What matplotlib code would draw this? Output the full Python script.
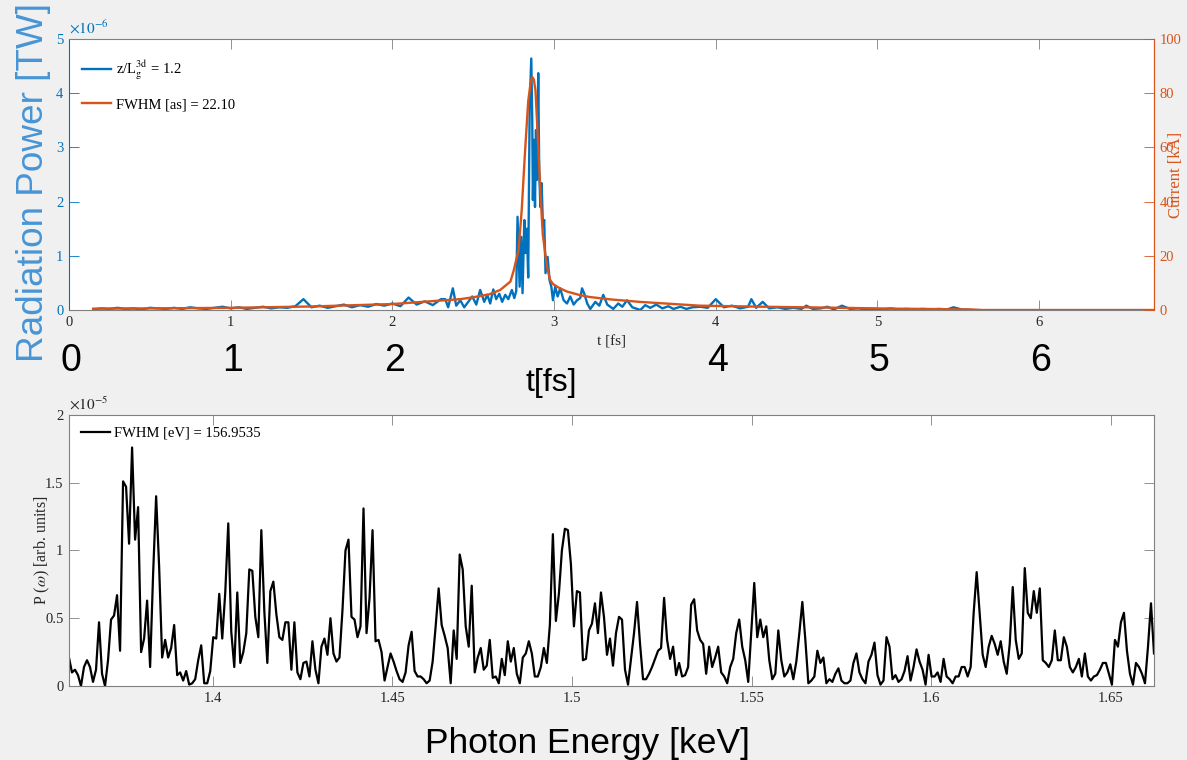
import numpy as np
import matplotlib.pyplot as plt
from matplotlib.ticker import FuncFormatter, MultipleLocator

####################################
### Data
####################################

# radiation power along the bunch, t in fs, power in units of 1e-6 TW
t_rad = [0.15, 0.20, 0.25, 0.30, 0.35, 0.40, 0.45, 0.50, 0.55, 0.60,
         0.65, 0.70, 0.75, 0.80, 0.85, 0.90, 0.95, 1.00, 1.05, 1.10,
         1.15, 1.20, 1.25, 1.30, 1.35, 1.40, 1.45, 1.50, 1.55, 1.60,
         1.65, 1.70, 1.75, 1.80, 1.85, 1.90, 1.95, 2.00, 2.05, 2.10,
         2.15, 2.20, 2.25, 2.30,
         2.327, 2.345, 2.374, 2.395, 2.42, 2.444, 2.469, 2.494, 2.519, 2.543,
         2.568, 2.587, 2.605, 2.624, 2.642, 2.661, 2.679, 2.698, 2.717, 2.739,
         2.754, 2.766,
         2.774, 2.787, 2.797, 2.805, 2.816, 2.824, 2.832, 2.840, 2.849, 2.859,
         2.865, 2.869, 2.876, 2.882, 2.888, 2.894, 2.902, 2.908, 2.915, 2.923,
         2.931, 2.939, 2.947, 2.960, 2.972, 2.983, 2.993, 3.007, 3.022, 3.038,
         3.059, 3.080, 3.100, 3.121, 3.142, 3.162,
         3.173, 3.187, 3.205, 3.224, 3.255, 3.28, 3.304, 3.329, 3.366, 3.397,
         3.422, 3.451, 3.484, 3.533, 3.564, 3.595, 3.632, 3.67, 3.707, 3.738,
         3.781, 3.818, 3.855, 3.905,
         3.95, 4.00, 4.05, 4.10, 4.15, 4.20, 4.22, 4.25, 4.29, 4.33,
         4.38, 4.43, 4.48, 4.53, 4.56, 4.60, 4.65, 4.69, 4.73, 4.78,
         4.83, 4.88, 4.93, 4.98, 5.03, 5.08, 5.13, 5.18, 5.23, 5.28,
         5.33, 5.38, 5.43, 5.47, 5.52, 5.58]
p_rad = [0.01, 0.03, 0.02, 0.04, 0.02, 0.03, 0.01, 0.04, 0.03, 0.02,
         0.04, 0.02, 0.05, 0.03, 0.02, 0.04, 0.06, 0.03, 0.05, 0.02,
         0.04, 0.06, 0.03, 0.05, 0.04, 0.07, 0.20, 0.05, 0.08, 0.04,
         0.07, 0.10, 0.05, 0.09, 0.06, 0.11, 0.08, 0.12, 0.07, 0.23,
         0.10, 0.16, 0.09, 0.20,
         0.20, 0.05, 0.40, 0.08, 0.18, 0.05, 0.15, 0.25, 0.10, 0.37,
         0.15, 0.28, 0.12, 0.38, 0.20, 0.30, 0.15, 0.28, 0.20, 0.37,
         0.22, 0.35,
         1.72, 0.43, 1.35, 0.31, 1.66, 1.05, 1.50, 0.60, 3.75, 4.64,
         3.50, 2.03, 3.14, 1.90, 3.32, 2.40, 4.37, 2.60, 1.90, 2.34,
         1.54, 1.66, 0.68, 0.98, 0.55, 0.43, 0.18, 0.43, 0.25, 0.40,
         0.18, 0.12, 0.25, 0.10, 0.18, 0.22,
         0.40, 0.30, 0.12, 0.02, 0.15, 0.08, 0.28, 0.10, 0.02, 0.12,
         0.06, 0.18, 0.05, 0.00, 0.09, 0.04, 0.10, 0.03, 0.07, 0.02,
         0.06, 0.02, 0.05, 0.06,
         0.04, 0.20, 0.05, 0.08, 0.03, 0.06, 0.20, 0.04, 0.15, 0.03,
         0.05, 0.02, 0.04, 0.02, 0.08, 0.02, 0.03, 0.06, 0.01, 0.08,
         0.02, 0.03, 0.01, 0.02, 0.01, 0.03, 0.01, 0.02, 0.01, 0.02,
         0.01, 0.02, 0.01, 0.05, 0.01, 0.00]

# beam current, kA
t_cur = [0.15, 0.5, 1.0, 1.5, 2.0, 2.3, 2.42, 2.5, 2.6, 2.667,
         2.73, 2.75, 2.78, 2.80, 2.82, 2.84, 2.855, 2.865, 2.875, 2.885,
         2.90, 2.915, 2.93, 2.956, 2.976, 2.995, 3.03, 3.08, 3.16, 3.22,
         3.35, 3.53, 3.9, 4.3, 4.67, 5.1, 5.58, 5.65, 6.71]
i_cur = [0.5, 0.6, 0.8, 1.3, 2.2, 3.5, 4.0, 4.7, 5.8, 7.4,
         10.5, 14.5, 22, 37, 58, 77, 84, 86, 85, 81,
         63, 44, 28, 16, 11, 9.5, 8.2, 6.8, 5.5, 4.8,
         3.9, 3.0, 1.6, 1.2, 0.9, 0.5, 0.2, 0.0, 0.0]

# spectrum on an even photon energy grid (keV), power in units of 1e-5
e_min, e_max = 1.36, 1.662
p_spec = [0.21, 0.10, 0.12, 0.08, 0.00, 0.14, 0.19, 0.14, 0.03, 0.12,
          0.47, 0.09, 0.00, 0.19, 0.49, 0.52, 0.67, 0.26, 1.51, 1.47,
          1.05, 1.76, 1.08, 1.32, 0.25, 0.35, 0.63, 0.14, 0.83, 1.40,
          0.88, 0.21, 0.34, 0.21, 0.28, 0.45, 0.08, 0.10, 0.04, 0.11,
          0.01, 0.02, 0.05, 0.19, 0.30, 0.02, 0.02, 0.11, 0.36, 0.35,
          0.68, 0.35, 0.69, 1.20, 0.40, 0.14, 0.69, 0.17, 0.25, 0.39,
          0.86, 0.85, 0.51, 0.36, 1.15, 0.55, 0.17, 0.70, 0.77, 0.53,
          0.36, 0.34, 0.47, 0.47, 0.12, 0.47, 0.10, 0.05, 0.17, 0.18,
          0.07, 0.33, 0.12, 0.02, 0.29, 0.35, 0.23, 0.50, 0.24, 0.18,
          0.21, 0.56, 1.00, 1.08, 0.51, 0.49, 0.36, 0.44, 1.31, 0.39,
          0.65, 1.15, 0.33, 0.34, 0.25, 0.04, 0.14, 0.24, 0.18, 0.11,
          0.05, 0.03, 0.10, 0.30, 0.40, 0.11, 0.07, 0.07, 0.05, 0.02,
          0.04, 0.18, 0.44, 0.72, 0.45, 0.37, 0.28, 0.02, 0.41, 0.20,
          0.97, 0.86, 0.44, 0.29, 0.74, 0.10, 0.21, 0.28, 0.12, 0.15,
          0.34, 0.06, 0.07, 0.02, 0.20, 0.08, 0.33, 0.18, 0.28, 0.09,
          0.02, 0.21, 0.24, 0.33, 0.24, 0.07, 0.07, 0.14, 0.28, 0.17,
          0.45, 1.12, 0.48, 0.68, 1.00, 1.16, 1.15, 0.90, 0.44, 0.70,
          0.69, 0.19, 0.20, 0.41, 0.46, 0.61, 0.39, 0.69, 0.51, 0.23,
          0.35, 0.15, 0.39, 0.51, 0.49, 0.12, 0.01, 0.20, 0.39, 0.62,
          0.31, 0.05, 0.05, 0.09, 0.14, 0.20, 0.26, 0.28, 0.65, 0.34,
          0.20, 0.29, 0.08, 0.17, 0.07, 0.08, 0.14, 0.60, 0.64, 0.41,
          0.34, 0.31, 0.09, 0.29, 0.14, 0.21, 0.29, 0.10, 0.07, 0.02,
          0.14, 0.20, 0.39, 0.49, 0.29, 0.19, 0.03, 0.39, 0.76, 0.36,
          0.49, 0.36, 0.44, 0.19, 0.05, 0.09, 0.41, 0.19, 0.07, 0.10,
          0.16, 0.05, 0.18, 0.39, 0.62, 0.34, 0.02, 0.04, 0.07, 0.26,
          0.17, 0.21, 0.02, 0.05, 0.03, 0.09, 0.13, 0.04, 0.02, 0.02,
          0.04, 0.17, 0.24, 0.10, 0.05, 0.02, 0.18, 0.23, 0.32, 0.08,
          0.01, 0.04, 0.36, 0.29, 0.05, 0.08, 0.03, 0.05, 0.11, 0.22,
          0.04, 0.14, 0.27, 0.18, 0.12, 0.01, 0.23, 0.07, 0.07, 0.10,
          0.03, 0.20, 0.07, 0.05, 0.02, 0.07, 0.07, 0.14, 0.14, 0.07,
          0.14, 0.54, 0.84, 0.54, 0.23, 0.14, 0.29, 0.37, 0.31, 0.23,
          0.33, 0.18, 0.09, 0.31, 0.73, 0.34, 0.20, 0.24, 0.87, 0.54,
          0.50, 0.70, 0.54, 0.72, 0.19, 0.17, 0.14, 0.19, 0.41, 0.19,
          0.19, 0.36, 0.29, 0.14, 0.10, 0.14, 0.20, 0.07, 0.24, 0.07,
          0.04, 0.07, 0.08, 0.12, 0.17, 0.17, 0.09, 0.01, 0.34, 0.29,
          0.47, 0.54, 0.26, 0.09, 0.01, 0.17, 0.14, 0.09, 0.02, 0.29,
          0.61, 0.24]
e_spec = np.linspace(e_min, e_max, len(p_spec))

big_ticks = ["0", "1", "2", "4", "5", "6"]
big_tick_pos = [0, 1, 2, 4, 5, 6]

####################################
### Style
####################################

plt.rcParams["font.family"] = "Liberation Serif"
plt.rcParams["mathtext.fontset"] = "stix"

blue = "#0072BD"
orange = "#D95319"
box_grey = "#808080"
txt_grey = "#262626"
g_fmt = FuncFormatter(lambda v, pos: "%g" % v)


def matlab_box(ax):
    for s in ax.spines.values():
        s.set_color(box_grey)
        s.set_linewidth(0.8)
    ax.tick_params(direction="in", length=7.5, width=0.6, labelsize=10.5,
                   colors=box_grey, labelcolor=txt_grey, pad=4)


fig = plt.figure(figsize=(11.87, 7.60), dpi=100, facecolor="#f0f0f0")

####################################
### Temporal profile
####################################

ax1 = fig.add_axes([0.0581, 0.5921, 0.9141, 0.3566])
matlab_box(ax1)
l1, = ax1.plot(t_rad, p_rad, color=blue, lw=1.7)
ax1.set_xlim(0, 6.71)
ax1.set_ylim(0, 5)
ax1.xaxis.set_major_locator(MultipleLocator(1))
ax1.yaxis.set_major_locator(MultipleLocator(1))
ax1.xaxis.set_major_formatter(g_fmt)
ax1.yaxis.set_major_formatter(g_fmt)
ax1.tick_params(axis="x", top=True)
ax1.tick_params(axis="y", colors=blue, labelcolor=blue)
ax1.spines["left"].set_color(blue)
ax1.set_xlabel("t [fs]", fontsize=11, color=txt_grey, labelpad=5)
ax1.text(0.0, 1.01, r"$\times10^{-6}$", transform=ax1.transAxes,
         fontsize=11, color=blue, ha="left", va="bottom")

ax2 = ax1.twinx()
l2, = ax2.plot(t_cur, i_cur, color=orange, lw=1.7)
ax2.set_ylim(0, 100)
ax2.yaxis.set_major_locator(MultipleLocator(20))
for s in ax2.spines.values():
    s.set_visible(False)
ax2.spines["right"].set_visible(True)
ax2.spines["right"].set_color(orange)
ax2.tick_params(axis="y", direction="in", length=7.5, width=0.6, labelsize=10.5,
                colors=orange, labelcolor=orange, pad=4)
ax2.set_ylabel("Current [kA]", fontsize=12, color=orange, rotation=90)
ax2.yaxis.set_label_coords(1.0125, 0.5)

ax2.legend([l1, l2], [r"z/L$_{\rm g}^{\rm 3d}$ = 1.2", "FWHM [as] = 22.10"],
           loc="upper left", bbox_to_anchor=(0.0, 0.975), frameon=False,
           fontsize=10.5, handlelength=2.0, handletextpad=0.3,
           labelspacing=1.1, borderaxespad=0.5)

####################################
### Spectrum
####################################

ax3 = fig.add_axes([0.0581, 0.0974, 0.9141, 0.3566])
matlab_box(ax3)
l3, = ax3.plot(e_spec, p_spec, color="black", lw=1.6)
ax3.set_xlim(e_min, e_max)
ax3.set_ylim(0, 2)
ax3.xaxis.set_major_locator(MultipleLocator(0.05))
ax3.yaxis.set_major_locator(MultipleLocator(0.5))
ax3.xaxis.set_major_formatter(g_fmt)
ax3.yaxis.set_major_formatter(g_fmt)
ax3.tick_params(top=True, right=True)
ax3.set_ylabel(r"P ($\omega$) [arb. units]", fontsize=11.5, color=txt_grey)
ax3.yaxis.set_label_coords(-0.016, 0.5)
ax3.text(0.0, 1.01, r"$\times10^{-5}$", transform=ax3.transAxes,
         fontsize=11, color=txt_grey, ha="left", va="bottom")
ax3.legend([l3], ["FWHM [eV] = 156.9535"], loc="upper left", frameon=False,
           fontsize=10.5, handlelength=2.0, handletextpad=0.3, borderaxespad=0.4)

####################################
### Large annotation labels
####################################

big = dict(family="Liberation Sans", color="black")
for pos, lab in zip(big_tick_pos, big_ticks):
    xf = ax1.transAxes.inverted().transform(ax1.transData.transform((pos, 0)))[0]
    fig.text(0.0581 + 0.9141 * xf + 0.0015, 0.525, lab, fontsize=27,
             ha="center", va="center", **big)
fig.text(0.464, 0.496, "t[fs]", fontsize=23, ha="center", va="center", **big)
fig.text(0.495, 0.022, "Photon Energy [keV]", fontsize=25.5, ha="center",
         va="center", **big)
fig.text(0.0285, 0.524, "Radiation Power [TW]", fontsize=26.6, rotation=90,
         ha="center", va="bottom", family="Liberation Sans", color="#4795d6")

plt.savefig("out.png", dpi=100, facecolor=fig.get_facecolor())
